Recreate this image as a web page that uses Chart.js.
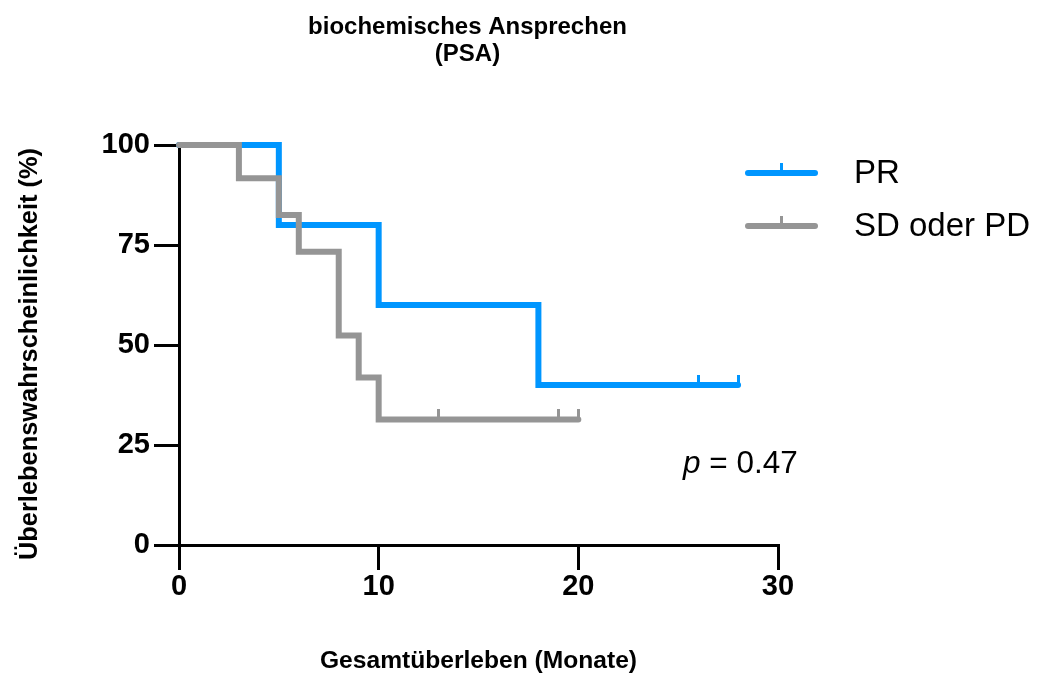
<!DOCTYPE html>
<html>
<head>
<meta charset="utf-8">
<script src="https://cdn.jsdelivr.net/npm/chart.js@4/dist/chart.umd.min.js"></script>
<style>
html,body{margin:0;padding:0;background:#fff;}
#c{display:block;}
</style>
</head>
<body>
<canvas id="c" width="1037" height="675"></canvas>
<script>
// ---- data ----
const titleLines = ["biochemisches Ansprechen", "(PSA)"];
const xTitle = "Gesamtüberleben (Monate)";
const yTitle = "Überlebenswahrscheinlichkeit (%)";
const seriesNames = ["PR", "SD oder PD"];
const prTimes = [0, 5, 10, 18, 28];
const prSurv = [100, 80, 60, 40, 40];
const prCensor = [26, 28];
const sdTimes = [0, 3, 5, 6, 8, 9, 10, 20];
const sdSurv = [100, 91.7, 82.5, 73.3, 52.4, 41.9, 31.4, 31.4];
const sdCensor = [13, 19, 20];
const xTicks = [0, 10, 20, 30];
const yTicks = [0, 25, 50, 75, 100];
const pLabel = "p";
const pValue = " = 0.47";

const BLUE = '#0096ff';
const GRAY = '#959595';
const FONT = '"Liberation Sans", Arial, Helvetica, sans-serif';

function steps(times, surv) { return times.map((t, i) => ({x: t, y: surv[i]})); }
function survAt(times, surv, t) {
  let s = surv[0];
  for (let i = 0; i < times.length; i++) if (times[i] <= t) s = surv[i];
  return s;
}
function censorPts(c, times, surv) { return c.map(t => ({x: t, y: survAt(times, surv, t)})); }

function tickImg(color) {
  const cv = document.createElement('canvas');
  cv.width = 3; cv.height = 20;
  const g = cv.getContext('2d');
  g.fillStyle = color;
  g.fillRect(0, 0, 3, 11);
  return cv;
}

const textPlugin = {
  id: 'texts',
  afterDraw(chart) {
    const ctx = chart.ctx;
    ctx.save();
    ctx.fillStyle = '#000';
    ctx.textAlign = 'center';
    ctx.textBaseline = 'alphabetic';
    // title
    ctx.font = 'bold 24px ' + FONT;
    ctx.fillText(titleLines[0], 467.5, 34);
    ctx.fillText(titleLines[1], 467.5, 61);
    // x title
    const ca = chart.chartArea;
    ctx.font = 'bold 24.6px ' + FONT;
    ctx.fillText(xTitle, (ca.left + ca.right) / 2, 668);
    // y title
    ctx.save();
    ctx.font = 'bold 25.4px ' + FONT;
    ctx.translate(37, 354);
    ctx.rotate(-Math.PI / 2);
    ctx.fillText(yTitle, 0, 0);
    ctx.restore();
    // p value
    ctx.textAlign = 'left';
    ctx.font = 'italic 31.5px ' + FONT;
    ctx.fillText(pLabel, 683, 473);
    const w = ctx.measureText(pLabel).width;
    ctx.font = '31.5px ' + FONT;
    ctx.fillText(pValue, 683 + w, 473);
    // legend
    const items = [[seriesNames[0], BLUE, 173, 183], [seriesNames[1], GRAY, 226, 236]];
    items.forEach(([name, col, ly, by]) => {
      ctx.strokeStyle = col;
      ctx.lineCap = 'round';
      ctx.lineWidth = 6;
      ctx.beginPath(); ctx.moveTo(748, ly); ctx.lineTo(815, ly); ctx.stroke();
      ctx.lineCap = 'butt';
      ctx.lineWidth = 3;
      ctx.beginPath(); ctx.moveTo(781.5, ly); ctx.lineTo(781.5, ly - 10); ctx.stroke();
      ctx.fillStyle = '#000';
      ctx.font = '33px ' + FONT;
      ctx.fillText(name, 854, by);
    });
    ctx.restore();
  }
};

new Chart(document.getElementById('c'), {
  type: 'line',
  data: {
    datasets: [
      { label: seriesNames[1] + ' censored', data: censorPts(sdCensor, sdTimes, sdSurv), showLine: false,
        pointStyle: tickImg(GRAY), pointRadius: 5, clip: false, order: 0 },
      { label: seriesNames[0] + ' censored', data: censorPts(prCensor, prTimes, prSurv), showLine: false,
        pointStyle: tickImg(BLUE), pointRadius: 5, clip: false, order: 1 },
      { label: seriesNames[1], data: steps(sdTimes, sdSurv), stepped: 'before', borderColor: GRAY,
        borderWidth: 6, pointRadius: 0, fill: false, clip: false, borderCapStyle: 'round',
        borderJoinStyle: 'miter', order: 2 },
      { label: seriesNames[0], data: steps(prTimes, prSurv), stepped: 'before', borderColor: BLUE,
        borderWidth: 6, pointRadius: 0, fill: false, clip: false, borderCapStyle: 'round',
        borderJoinStyle: 'miter', order: 3 }
    ]
  },
  options: {
    responsive: false,
    animation: false,
    devicePixelRatio: 1,
    layout: { padding: { left: 0, right: 259, top: 145, bottom: 70 } },
    plugins: { legend: { display: false }, tooltip: { enabled: false }, title: { display: false } },
    scales: {
      x: {
        type: 'linear', min: 0, max: 30,
        afterFit(s) { s.height = 60; },
        afterBuildTicks(s) { s.ticks = xTicks.map(v => ({value: v})); },
        ticks: { color: '#000', font: { family: FONT, size: 29, weight: 'bold' }, padding: 0, maxRotation: 0 },
        grid: { drawOnChartArea: false, color: '#000', tickLength: 25, tickWidth: 3, lineWidth: 3 },
        border: { display: true, color: '#000', width: 3 }
      },
      y: {
        type: 'linear', min: 0, max: 100,
        afterFit(s) { s.width = 179; },
        afterBuildTicks(s) { s.ticks = yTicks.map(v => ({value: v})); },
        ticks: { color: '#000', font: { family: FONT, size: 29, weight: 'bold' }, padding: 4 },
        grid: { drawOnChartArea: false, color: '#000', tickLength: 25, tickWidth: 3, lineWidth: 3 },
        border: { display: true, color: '#000', width: 3 }
      }
    }
  },
  plugins: [textPlugin]
});
</script>
</body>
</html>
